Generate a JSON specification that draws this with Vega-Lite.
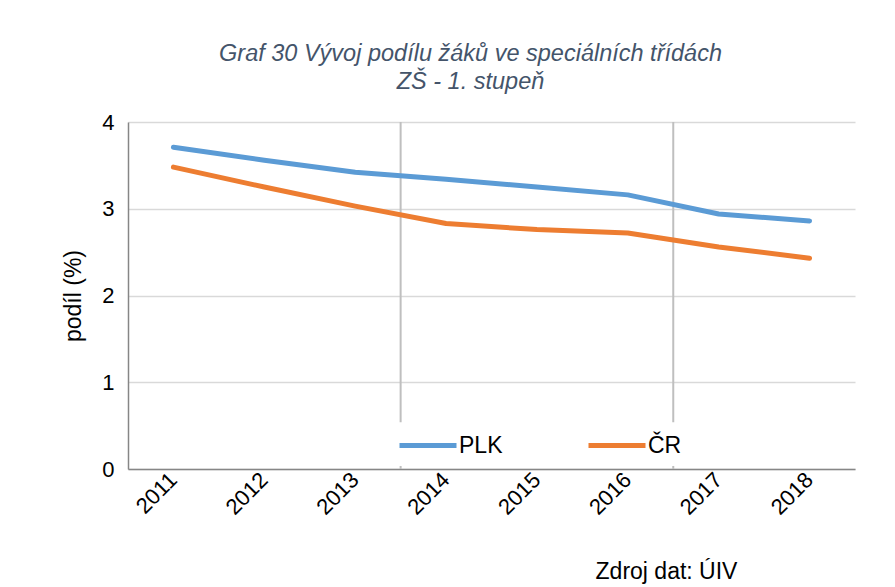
{
  "$schema": "https://vega.github.io/schema/vega-lite/v6.json",
  "autosize": "none",
  "width": 727,
  "height": 347,
  "padding": {"left": 128, "top": 122, "right": 40, "bottom": 118},
  "background": "white",
  "config": {
    "font": "Liberation Sans",
    "view": {"stroke": null},
    "axis": {
      "labelColor": "black",
      "titleColor": "black",
      "titleFontWeight": "normal",
      "domainColor": "#868686",
      "domainWidth": 1.5,
      "ticks": false,
      "gridColor": "#D9D9D9",
      "gridWidth": 1.5
    }
  },
  "title": {
    "text": ["Graf 30 Vývoj podílu žáků ve speciálních třídách", "ZŠ - 1. stupeň"],
    "fontSize": 23.5,
    "fontStyle": "italic",
    "fontWeight": "normal",
    "color": "#44546A",
    "lineHeight": 28,
    "anchor": "middle",
    "dx": -21,
    "offset": 18
  },
  "layer": [
    {
      "data": {
        "values": [
          {"rok": "2014", "od": 4, "do": 0.54},
          {"rok": "2014", "od": 0.035, "do": 0},
          {"rok": "2017", "od": 4, "do": 0.54},
          {"rok": "2017", "od": 0.035, "do": 0}
        ]
      },
      "mark": {"type": "rule", "color": "#BFBFBF", "strokeWidth": 2},
      "encoding": {
        "x": {"field": "rok", "type": "ordinal", "bandPosition": 0},
        "y": {"field": "od", "type": "quantitative"},
        "y2": {"field": "do"}
      }
    },
    {
      "data": {
        "values": [
          {"rok": "2011", "uzemi": "PLK", "podil": 3.71},
          {"rok": "2012", "uzemi": "PLK", "podil": 3.56},
          {"rok": "2013", "uzemi": "PLK", "podil": 3.42},
          {"rok": "2014", "uzemi": "PLK", "podil": 3.34},
          {"rok": "2015", "uzemi": "PLK", "podil": 3.25},
          {"rok": "2016", "uzemi": "PLK", "podil": 3.16},
          {"rok": "2017", "uzemi": "PLK", "podil": 2.94},
          {"rok": "2018", "uzemi": "PLK", "podil": 2.86},
          {"rok": "2011", "uzemi": "ČR", "podil": 3.48},
          {"rok": "2012", "uzemi": "ČR", "podil": 3.25},
          {"rok": "2013", "uzemi": "ČR", "podil": 3.03},
          {"rok": "2014", "uzemi": "ČR", "podil": 2.83},
          {"rok": "2015", "uzemi": "ČR", "podil": 2.76},
          {"rok": "2016", "uzemi": "ČR", "podil": 2.72},
          {"rok": "2017", "uzemi": "ČR", "podil": 2.56},
          {"rok": "2018", "uzemi": "ČR", "podil": 2.43}
        ]
      },
      "mark": {"type": "line", "strokeWidth": 5, "strokeCap": "round", "strokeJoin": "round"},
      "encoding": {
        "x": {"field": "rok", "type": "ordinal", "bandPosition": 0.5},
        "y": {"field": "podil", "type": "quantitative"},
        "color": {
          "field": "uzemi",
          "type": "nominal",
          "scale": {"domain": ["PLK", "ČR"], "range": ["#5B9BD5", "#ED7D31"]},
          "legend": {
            "title": null,
            "orient": "none",
            "direction": "horizontal",
            "legendX": 269,
            "legendY": 292.5,
            "padding": 0,
            "symbolType": "stroke",
            "symbolSize": 3249,
            "symbolStrokeWidth": 5,
            "labelFontSize": 23,
            "labelColor": "black",
            "labelOffset": 0,
            "columnPadding": 75
          }
        }
      }
    }
  ],
  "encoding": {
    "x": {
      "field": "rok",
      "type": "ordinal",
      "scale": {"type": "band", "paddingInner": 0, "paddingOuter": 0},
      "axis": {
        "title": "Zdroj dat: ÚIV",
        "titleFontSize": 23,
        "titleX": 538,
        "titleY": 109,
        "titleAlign": "center",
        "titleBaseline": "alphabetic",
        "labelAngle": -45,
        "labelAlign": "right",
        "labelBaseline": "middle",
        "labelFontSize": 22,
        "labelPadding": 7,
        "grid": false
      }
    },
    "y": {
      "field": "podil",
      "type": "quantitative",
      "scale": {"domain": [0, 4]},
      "axis": {
        "title": "podíl (%)",
        "titleFontSize": 23,
        "titlePadding": 16,
        "values": [0, 1, 2, 3, 4],
        "format": "d",
        "labelFontSize": 22,
        "labelPadding": 14,
        "grid": true
      }
    }
  }
}
